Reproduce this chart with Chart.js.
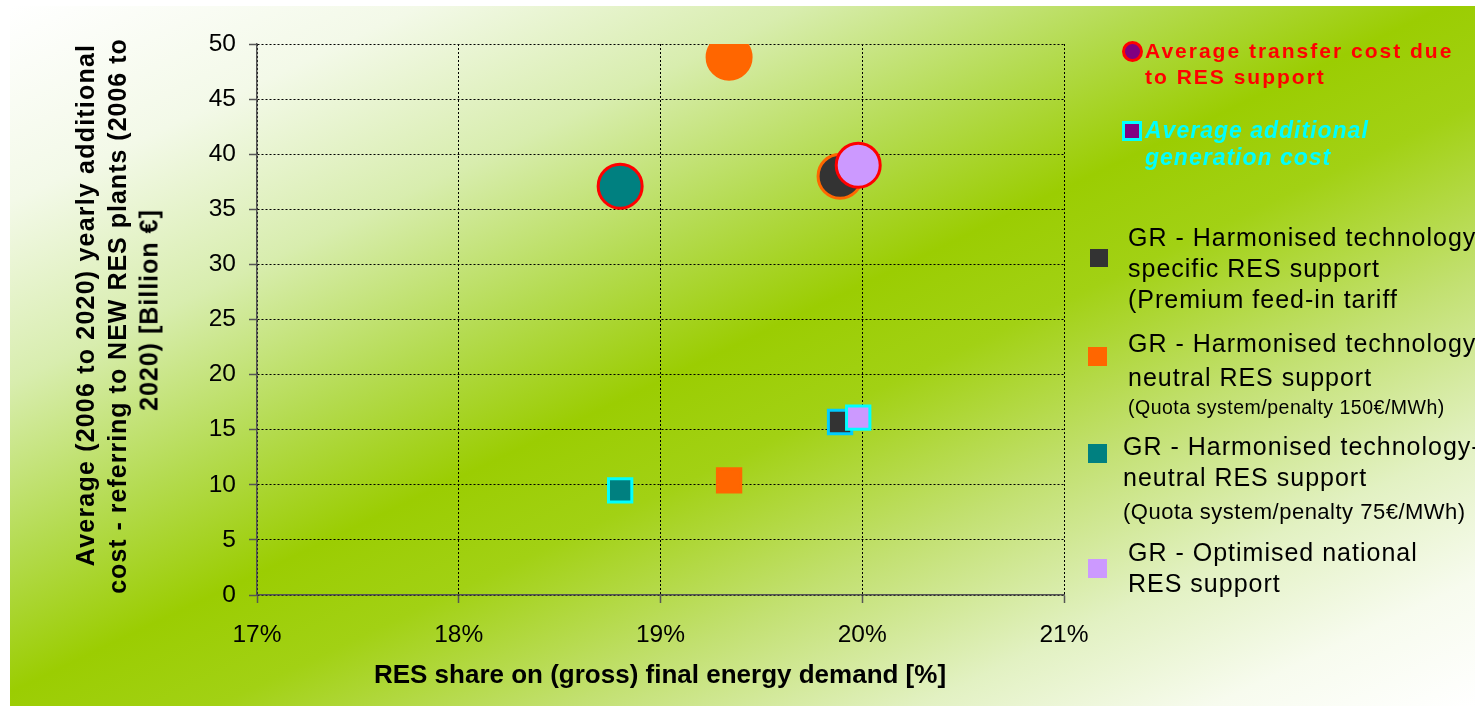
<!DOCTYPE html>
<html>
<head>
<meta charset="utf-8">
<script src="https://cdn.jsdelivr.net/npm/chart.js@4.4.1/dist/chart.umd.min.js"></script>
<style>
  html, body { margin: 0; padding: 0; background: #ffffff; }
  #stage { position: relative; width: 1475px; height: 712px; overflow: hidden;
           font-family: "Liberation Sans", Arial, sans-serif; }
  #panel { position: absolute; left: 10px; top: 6px; width: 1465px; height: 700px;
           background: linear-gradient(to bottom right,
             #ffffff 0%, #f3f9e8 14%, #d8edae 27%, #b4db50 39%, #9bcd02 49%,
             #a2d114 57%, #c2e070 69%, #e2f1c2 81%, #f7fbee 91%, #ffffff 100%); }
  canvas { position: absolute; left: 0; top: 0; }
  .t { position: absolute; white-space: nowrap; line-height: 1; }
  .mk { position: absolute; box-sizing: border-box; }
</style>
</head>
<body>
<div id="stage">
  <div id="panel"></div>
  <canvas id="chart" width="1475" height="712"></canvas>
</div>
<script>
// Scenarios (one colour each)
const scenarios = [
  'GR - Harmonised technology specific RES support (Premium feed-in tariff',
  'GR - Harmonised technology neutral RES support (Quota system/penalty 150€/MWh)',
  'GR - Harmonised technology-neutral RES support (Quota system/penalty 75€/MWh)',
  'GR - Optimised national RES support'
];
// RES share on (gross) final energy demand [%]
const resShare = [19.89, 19.34, 18.80, 19.98];
// Average transfer cost due to RES support [Billion €]
const transferCost = [38.0, 48.8, 37.1, 39.0];
// Average additional generation cost [Billion €]
const generationCost = [15.7, 10.4, 9.5, 16.1];
// Axis ticks
const xTicks = [17, 18, 19, 20, 21];
const yTicks = [0, 5, 10, 15, 20, 25, 30, 35, 40, 45, 50];

// Styling per scenario
const fillColors = ['#333333', '#ff6600', '#008080', '#cc99ff'];
const circleEdges = ['#ff6600', '#ff6600', '#ff0000', '#ff0000'];
const squareEdges = ['#00ccff', '#ff6600', '#00ffff', '#00ffff'];
const drawOrder = [3, 2, 1, 0];

const FONT = '"Liberation Sans", Arial, sans-serif';

const datasets = [];
scenarios.forEach((name, i) => {
  datasets.push({
    label: name + ' – transfer cost',
    data: [{ x: resShare[i], y: transferCost[i] }],
    pointStyle: 'circle',
    pointRadius: 22,
    pointBackgroundColor: fillColors[i],
    pointBorderColor: circleEdges[i],
    pointBorderWidth: 3,
    order: drawOrder[i]
  });
  datasets.push({
    label: name + ' – generation cost',
    data: [{ x: resShare[i], y: generationCost[i] }],
    pointStyle: 'rect',
    pointRadius: 16.5,
    pointBackgroundColor: fillColors[i],
    pointBorderColor: squareEdges[i],
    pointBorderWidth: 3,
    order: drawOrder[i]
  });
});

const gridCommon = {
  color: '#000000',
  lineWidth: 1,
  tickLength: 8,
  tickColor: '#555555',
  tickWidth: 1.5,
  tickBorderDash: []
};
const borderCommon = { color: '#555555', width: 1.5, dash: [2, 2] };

new Chart(document.getElementById('chart'), {
  type: 'scatter',
  data: { datasets },
  options: {
    responsive: false,
    animation: false,
    devicePixelRatio: 1,
    events: [],
    layout: { padding: { left: 0, top: 44, right: 411, bottom: 0 } },
    plugins: { legend: { display: false }, tooltip: { enabled: false } },
    scales: {
      x: {
        type: 'linear',
        min: xTicks[0],
        max: xTicks[xTicks.length - 1],
        afterBuildTicks: s => { s.ticks = xTicks.map(v => ({ value: v })); },
        afterFit: s => { s.height = 117; },
        ticks: {
          callback: v => v + '%',
          color: '#000000',
          padding: 18,
          maxRotation: 0,
          font: { family: FONT, size: 24.5 }
        },
        grid: gridCommon,
        border: borderCommon
      },
      y: {
        type: 'linear',
        min: yTicks[0],
        max: yTicks[yTicks.length - 1],
        afterBuildTicks: s => { s.ticks = yTicks.map(v => ({ value: v })); },
        afterFit: s => { s.width = 257; },
        ticks: {
          color: '#000000',
          padding: 13,
          font: { family: FONT, size: 24.5 }
        },
        grid: gridCommon,
        border: borderCommon
      }
    }
  }
});

// ---- Text overlays (axis titles and legend) ----
const stage = document.getElementById('stage');

function textLine(str, x, baseline, o) {
  const d = document.createElement('div');
  d.className = 't';
  d.textContent = str;
  const fs = o.size;
  d.style.fontSize = fs + 'px';
  d.style.fontWeight = o.bold ? 'bold' : 'normal';
  d.style.fontStyle = o.italic ? 'italic' : 'normal';
  d.style.color = o.color || '#000000';
  d.style.letterSpacing = (o.spacing || 0) + 'px';
  d.style.top = (baseline - 0.8465 * fs) + 'px';
  d.style.left = x + 'px';
  if (o.center) d.style.transform = 'translateX(-50%)';
  stage.appendChild(d);
  return d;
}

function verticalLine(str, cx, cy, o) {
  const d = document.createElement('div');
  d.className = 't';
  d.textContent = str;
  d.style.fontSize = o.size + 'px';
  d.style.fontWeight = 'bold';
  d.style.color = '#000000';
  d.style.letterSpacing = (o.spacing || 0) + 'px';
  d.style.left = cx + 'px';
  d.style.top = cy + 'px';
  d.style.transform = 'translate(-50%, -50%) rotate(-90deg)';
  stage.appendChild(d);
}

function marker(cx, cy, size, fill, edge, edgeW, round) {
  const d = document.createElement('div');
  d.className = 'mk';
  d.style.left = (cx - size / 2) + 'px';
  d.style.top = (cy - size / 2) + 'px';
  d.style.width = size + 'px';
  d.style.height = size + 'px';
  d.style.background = fill;
  if (edge) d.style.border = edgeW + 'px solid ' + edge;
  if (round) d.style.borderRadius = '50%';
  stage.appendChild(d);
}

// Y axis title
verticalLine('Average (2006 to 2020) yearly additional', 85, 305, { size: 25, spacing: 1.2 });
verticalLine('cost - referring to NEW RES plants (2006 to', 117, 316, { size: 25, spacing: 1 });
verticalLine('2020) [Billion €]', 149, 310, { size: 25, spacing: 1 });

// X axis title
textLine('RES share on (gross) final energy demand [%]', 660, 683, { size: 26, bold: true, center: true });

// Cost-type legend
marker(1132, 51, 21, '#800080', '#ff0000', 3, true);
textLine('Average transfer cost due', 1145, 57.3, { size: 21, bold: true, color: '#ff0000', spacing: 2 });
textLine('to RES support', 1145, 84, { size: 21, bold: true, color: '#ff0000', spacing: 2 });

marker(1132, 131, 20, '#800080', '#00ffff', 3, false);
textLine('Average additional', 1145, 138.3, { size: 23, bold: true, italic: true, color: '#00ffff', spacing: 1 });
textLine('generation cost', 1145, 165, { size: 23, bold: true, italic: true, color: '#00ffff', spacing: 1 });

// Scenario legend
const reg = { size: 25, spacing: 1 };
marker(1098.5, 257.5, 18, fillColors[0], null, 0, false);
textLine('GR - Harmonised technology', 1128, 246, reg);
textLine('specific RES support', 1128, 277, reg);
textLine('(Premium feed-in tariff', 1128, 308, reg);

marker(1097.5, 356, 19, fillColors[1], null, 0, false);
textLine('GR - Harmonised technology', 1128, 352, reg);
textLine('neutral RES support', 1128, 386.5, reg);
textLine('(Quota system/penalty 150€/MWh)', 1128, 415, { size: 19.5, spacing: 0.5 });

marker(1097.5, 453.3, 19, fillColors[2], null, 0, false);
textLine('GR - Harmonised technology-', 1123, 455, reg);
textLine('neutral RES support', 1123, 486.5, reg);
textLine('(Quota system/penalty 75€/MWh)', 1123, 520, { size: 22, spacing: 0.5 });

marker(1097.5, 568.3, 19, fillColors[3], null, 0, false);
textLine('GR - Optimised national', 1128, 561.5, reg);
textLine('RES support', 1128, 592.5, reg);
</script>
</body>
</html>
